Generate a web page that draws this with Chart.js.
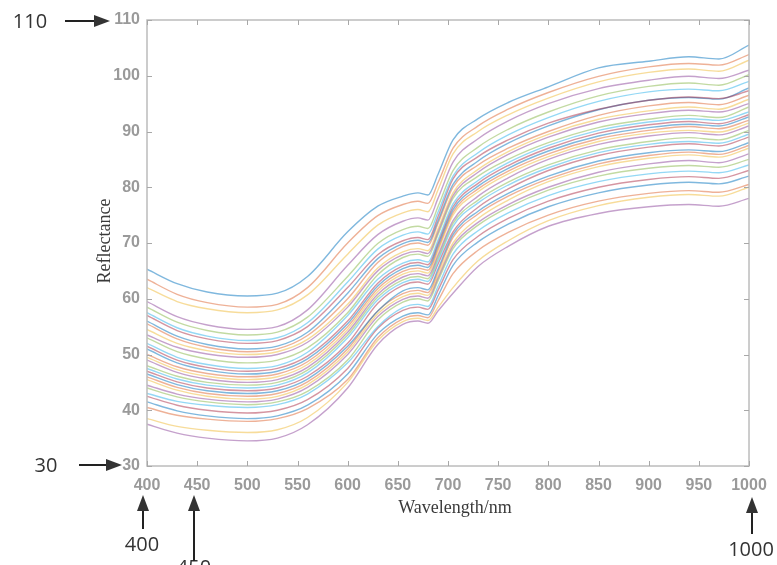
<!DOCTYPE html>
<html>
<head>
<meta charset="utf-8">
<script src="https://cdn.jsdelivr.net/npm/chart.js@4"></script>
<style>
  body { margin: 0; background: #fff; }
  #wrap { width: 777px; height: 565px; position: relative; }
</style>
</head>
<body>
<div id="wrap"><canvas id="spectra-chart"></canvas></div>
<script>
const wavelengths = [400, 430, 460, 500, 530, 560, 600, 630, 655, 670, 680, 690, 705, 730, 760, 800, 850, 900, 940, 970, 1000];

// Axis ticks
const xTicks = [400, 450, 500, 550, 600, 650, 700, 750, 800, 850, 900, 950, 1000];
const yTicks = [30, 40, 50, 60, 70, 80, 90, 100, 110];

// Reflectance spectra (one per sample)
const s01 = [65.3, 62.7, 61.2, 60.5, 61.0, 64.0, 72.0, 76.6, 78.4, 79.0, 78.6, 82.3, 88.5, 92.3, 95.2, 98.0, 101.4, 102.6, 103.4, 103.0, 105.5];
const s02 = [63.5, 60.8, 59.3, 58.5, 59.0, 62.0, 70.0, 74.9, 76.9, 77.5, 77.1, 80.8, 87.0, 91.0, 94.0, 97.0, 99.9, 101.6, 102.2, 101.9, 103.8];
const s03 = [62.0, 59.5, 58.2, 57.5, 58.0, 60.7, 68.0, 73.2, 75.4, 76.0, 75.6, 79.5, 86.0, 90.0, 93.0, 96.0, 98.9, 100.6, 101.2, 100.8, 102.8];
const s04 = [59.5, 56.8, 55.3, 54.5, 55.0, 58.0, 66.0, 71.5, 73.9, 74.5, 74.1, 78.0, 84.5, 88.7, 91.9, 95.0, 97.7, 99.2, 99.9, 99.5, 101.0];
const s05 = [58.5, 55.8, 54.3, 53.5, 54.0, 56.7, 64.0, 69.9, 72.4, 73.0, 72.6, 76.5, 83.0, 87.2, 90.4, 93.5, 96.4, 98.1, 98.7, 98.3, 100.2];
const s06 = [57.5, 54.8, 53.3, 52.5, 53.0, 55.7, 63.0, 68.9, 71.4, 72.0, 71.6, 75.5, 82.0, 86.2, 89.4, 92.5, 95.4, 97.1, 97.6, 97.3, 99.0];
const s07 = [57.0, 54.3, 52.8, 52.0, 52.5, 55.0, 62.0, 67.9, 70.4, 71.0, 70.6, 74.7, 81.5, 85.5, 88.5, 91.5, 94.0, 95.6, 96.2, 95.9, 97.3];
const s08 = [56.0, 53.3, 51.8, 51.0, 51.5, 54.0, 61.0, 67.2, 69.9, 70.5, 70.1, 74.0, 80.5, 84.7, 87.9, 91.0, 93.9, 95.6, 96.1, 95.8, 97.8];
const s09 = [55.5, 52.8, 51.3, 50.5, 51.0, 53.4, 60.0, 66.5, 69.4, 70.0, 69.6, 73.5, 80.0, 84.0, 87.0, 90.0, 92.9, 94.6, 95.2, 94.8, 96.5];
const s10 = [54.5, 52.0, 50.7, 50.0, 50.5, 52.7, 59.0, 65.5, 68.4, 69.0, 68.6, 72.5, 79.0, 83.2, 86.4, 89.5, 92.2, 93.7, 94.4, 94.0, 95.8];
const s11 = [53.5, 51.3, 50.1, 49.5, 50.0, 52.2, 58.5, 65.0, 67.9, 68.5, 68.1, 72.0, 78.5, 82.7, 85.9, 89.0, 91.7, 93.2, 93.8, 93.5, 95.0];
const s12 = [53.0, 50.5, 49.2, 48.5, 49.0, 51.2, 57.5, 64.3, 67.4, 68.0, 67.6, 71.5, 78.0, 82.0, 85.0, 88.0, 90.7, 92.2, 92.9, 92.5, 94.4];
const s13 = [52.0, 49.5, 48.2, 47.5, 48.0, 50.4, 57.0, 63.5, 66.4, 67.0, 66.6, 70.5, 77.0, 81.2, 84.4, 87.5, 90.2, 91.7, 92.3, 92.0, 93.5];
const s14 = [51.5, 49.0, 47.7, 47.0, 47.5, 49.7, 56.0, 62.8, 65.9, 66.5, 66.1, 70.0, 76.5, 80.7, 83.9, 87.0, 89.7, 91.2, 91.8, 91.4, 93.0];
const s15 = [51.0, 48.5, 47.2, 46.5, 47.0, 49.2, 55.5, 62.3, 65.4, 66.0, 65.6, 69.5, 76.0, 80.2, 83.4, 86.5, 89.2, 90.7, 91.3, 91.0, 92.6];
const s16 = [50.0, 47.8, 46.6, 46.0, 46.5, 48.7, 55.0, 61.8, 64.9, 65.5, 65.1, 69.0, 75.5, 79.7, 82.9, 86.0, 88.7, 90.2, 90.9, 90.5, 92.0];
const s17 = [49.5, 47.3, 46.1, 45.5, 46.0, 48.2, 54.5, 61.3, 64.4, 65.0, 64.6, 68.5, 75.0, 79.2, 82.4, 85.5, 88.2, 89.7, 90.2, 89.9, 91.5];
const s18 = [49.0, 46.8, 45.6, 45.0, 45.5, 47.7, 54.0, 60.8, 63.9, 64.5, 64.1, 67.8, 74.0, 78.4, 81.7, 85.0, 87.7, 89.2, 89.8, 89.4, 91.0];
const s19 = [48.0, 46.1, 45.0, 44.5, 45.0, 47.2, 53.5, 60.3, 63.4, 64.0, 63.6, 67.3, 73.5, 77.7, 80.9, 84.0, 86.7, 88.2, 88.9, 88.5, 90.2];
const s20 = [47.5, 45.6, 44.5, 44.0, 44.5, 46.7, 53.0, 59.8, 62.9, 63.5, 63.1, 66.8, 73.0, 77.2, 80.4, 83.5, 86.2, 87.7, 88.2, 87.9, 89.5];
const s21 = [47.0, 45.1, 44.0, 43.5, 44.0, 46.1, 52.0, 59.2, 62.4, 63.0, 62.6, 66.2, 72.0, 76.4, 79.7, 83.0, 85.7, 87.2, 87.8, 87.4, 89.0];
const s22 = [46.5, 44.6, 43.5, 43.0, 43.5, 45.6, 51.5, 57.8, 61.4, 62.0, 61.6, 65.3, 71.5, 75.7, 78.9, 82.0, 84.7, 86.2, 86.7, 86.4, 88.0];
const s23 = [46.0, 44.1, 43.0, 42.5, 43.0, 45.1, 51.0, 57.8, 60.9, 61.5, 61.1, 64.8, 71.0, 75.2, 78.4, 81.5, 84.2, 85.7, 86.3, 85.9, 87.5];
const s24 = [45.5, 43.6, 42.5, 42.0, 42.5, 44.6, 50.5, 57.3, 60.4, 61.0, 60.6, 64.2, 70.0, 74.4, 77.7, 81.0, 83.7, 85.2, 85.8, 85.4, 87.0];
const s25 = [44.5, 42.9, 42.0, 41.5, 42.0, 44.1, 50.0, 56.8, 59.9, 60.5, 60.1, 63.7, 69.5, 73.7, 76.9, 80.0, 82.7, 84.2, 84.8, 84.4, 86.0];
const s26 = [44.0, 42.4, 41.5, 41.0, 41.5, 43.4, 49.0, 56.2, 59.4, 60.0, 59.6, 63.2, 69.0, 73.2, 76.4, 79.5, 82.0, 83.4, 83.9, 83.6, 85.0];
const s27 = [43.0, 41.6, 40.9, 40.5, 41.0, 42.9, 48.5, 55.0, 58.4, 59.0, 58.6, 62.2, 68.0, 72.2, 75.4, 78.5, 81.0, 82.4, 82.9, 82.6, 84.0];
const s28 = [42.5, 40.9, 40.0, 39.5, 40.0, 41.9, 47.5, 54.7, 57.9, 58.5, 58.1, 61.5, 67.0, 71.2, 74.4, 77.5, 80.0, 81.4, 81.9, 81.6, 83.0];
const s29 = [41.5, 39.9, 39.0, 38.5, 39.0, 40.9, 46.5, 53.7, 56.9, 57.5, 57.1, 60.5, 66.0, 70.2, 73.4, 76.5, 79.0, 80.4, 80.9, 80.6, 82.0];
const s30 = [40.5, 39.1, 38.4, 38.0, 38.5, 40.3, 45.5, 53.0, 56.4, 57.0, 56.6, 59.6, 64.5, 68.7, 71.9, 75.0, 77.5, 78.9, 79.4, 79.1, 80.5];
const s31 = [38.5, 37.1, 36.4, 36.0, 36.5, 38.7, 45.0, 52.5, 55.9, 56.5, 56.1, 58.4, 62.0, 66.8, 70.4, 74.0, 76.7, 78.2, 78.7, 78.4, 80.0];
const s32 = [37.5, 35.9, 35.0, 34.5, 35.0, 37.4, 44.0, 51.8, 55.4, 56.0, 55.6, 57.8, 61.0, 65.8, 69.4, 73.0, 75.3, 76.5, 76.9, 76.6, 78.0];

const spectra = [s01, s02, s03, s04, s05, s06, s07, s08, s09, s10, s11, s12, s13, s14, s15, s16,
                 s17, s18, s19, s20, s21, s22, s23, s24, s25, s26, s27, s28, s29, s30, s31, s32];

// MATLAB default line colours, faded
const lineColors = ['rgba(0,114,189,0.5)', 'rgba(217,83,25,0.45)', 'rgba(237,177,32,0.45)', 'rgba(126,47,142,0.45)',
                    'rgba(119,172,48,0.45)', 'rgba(77,190,238,0.6)', 'rgba(162,20,47,0.45)'];

const datasets = spectra.map((vals, i) => ({
    data: vals.map((v, j) => ({ x: wavelengths[j], y: v })),
    borderColor: lineColors[i % lineColors.length],
    borderWidth: 1.4,
    pointRadius: 0,
    fill: false,
    cubicInterpolationMode: 'monotone'
}));

// Arrow helper for the annotations round the axes
function arrow(ctx, x1, y1, x2, y2) {
    const ang = Math.atan2(y2 - y1, x2 - x1);
    const head = 16, half = 6;
    const bx = x2 - head * Math.cos(ang), by = y2 - head * Math.sin(ang);
    ctx.beginPath();
    ctx.moveTo(x1, y1);
    ctx.lineTo(bx, by);
    ctx.stroke();
    ctx.beginPath();
    ctx.moveTo(x2, y2);
    ctx.lineTo(bx + half * Math.sin(ang), by - half * Math.cos(ang));
    ctx.lineTo(bx - half * Math.sin(ang), by + half * Math.cos(ang));
    ctx.closePath();
    ctx.fill();
}

// Box, inward ticks, axis titles and annotations
const framePlugin = {
    id: 'frame',
    afterDraw(chart) {
        const { ctx, chartArea: a, scales: { x, y } } = chart;
        ctx.save();
        ctx.strokeStyle = '#bcbcbc';
        ctx.lineWidth = 1.5;
        ctx.strokeRect(a.left, a.top, a.right - a.left, a.bottom - a.top);
        ctx.lineWidth = 1;
        ctx.strokeStyle = '#a8a8a8';
        xTicks.forEach(v => {
            const px = Math.round(x.getPixelForValue(v)) + 0.5;
            ctx.beginPath();
            ctx.moveTo(px, a.bottom); ctx.lineTo(px, a.bottom - 5);
            ctx.moveTo(px, a.top); ctx.lineTo(px, a.top + 5);
            ctx.stroke();
        });
        yTicks.forEach(v => {
            const py = Math.round(y.getPixelForValue(v)) + 0.5;
            ctx.beginPath();
            ctx.moveTo(a.left, py); ctx.lineTo(a.left + 5, py);
            ctx.moveTo(a.right, py); ctx.lineTo(a.right - 5, py);
            ctx.stroke();
        });

        // axis titles
        ctx.fillStyle = '#3a3a3a';
        ctx.font = '18px "Liberation Serif"';
        ctx.textAlign = 'center';
        ctx.textBaseline = 'middle';
        ctx.fillText('Wavelength/nm', 455, 508);
        ctx.save();
        ctx.translate(105, 241);
        ctx.rotate(-Math.PI / 2);
        ctx.fillText('Reflectance', 0, 0);
        ctx.restore();

        // annotations
        ctx.fillStyle = '#333';
        ctx.strokeStyle = '#222';
        ctx.lineWidth = 2;
        ctx.font = '20px "Open Sans"';
        ctx.fillText('110', 30, 22);
        ctx.fillText('30', 46, 466);
        ctx.fillText('400', 142, 545);
        ctx.fillText('450', 194, 568);
        ctx.fillText('1000', 751, 550);
        arrow(ctx, 65, 21, 110, 21);
        arrow(ctx, 79, 465, 122, 465);
        arrow(ctx, 143, 529, 143, 495);
        arrow(ctx, 194, 561, 194, 495);
        arrow(ctx, 752, 534, 752, 497);
        ctx.restore();
    }
};

const tickFont = { family: '"Liberation Sans", Arial', size: 16, weight: 'bold' };

new Chart(document.getElementById('spectra-chart'), {
    type: 'line',
    data: { datasets },
    options: {
        responsive: true,
        maintainAspectRatio: false,
        animation: false,
        layout: { padding: { left: 0, top: 20, right: 28, bottom: 0 } },
        plugins: { legend: { display: false }, tooltip: { enabled: false } },
        scales: {
            x: {
                type: 'linear',
                min: 400,
                max: 1000,
                grid: { display: false, drawTicks: false },
                border: { display: false },
                ticks: {
                    stepSize: 50, autoSkip: false, maxRotation: 0, padding: 10, color: '#9a9a9a', font: tickFont,
                    callback: v => String(v)
                },
                afterFit(scale) { scale.height = 99; }
            },
            y: {
                min: 30,
                max: 110,
                grid: { display: false, drawTicks: false },
                border: { display: false },
                ticks: { stepSize: 10, padding: 7, color: '#9a9a9a', font: tickFont },
                afterFit(scale) { scale.width = 147; }
            }
        }
    },
    plugins: [framePlugin]
});
</script>
</body>
</html>
